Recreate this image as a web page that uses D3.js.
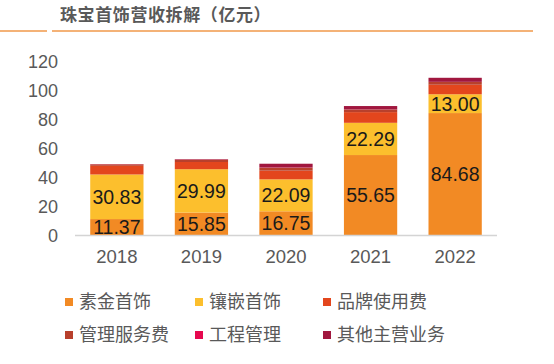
<!DOCTYPE html>
<html>
<head>
<meta charset="utf-8">
<script src="https://cdn.jsdelivr.net/npm/d3@7"></script>
<style>
  body { margin: 0; background: #fff; }
  svg { display: block; font-family: "Liberation Sans", Arial, "Noto Sans CJK SC", sans-serif; }
</style>
</head>
<body>
<svg id="chart" width="554" height="364"></svg>
<script>
const years = ['2018', '2019', '2020', '2021', '2022']
const series = ['素金首饰', '镶嵌首饰', '品牌使用费', '管理服务费', '工程管理', '其他主营业务']
const colors = ['#f28a24', '#fcbf2d', '#e3461d', '#b8402c', '#e6084f', '#a1173f']

// values per series, one per year (亿元)
const plainGold = [11.37, 15.85, 16.75, 55.65, 84.68]
const inlaid = [30.83, 29.99, 22.09, 22.29, 13.00]
const brandFee = [6.0, 5.0, 6.0, 7.4, 6.6]
const mgmtFee = [1.0, 1.6, 2.0, 1.8, 1.9]
const engineering = [0.1, 0.1, 0.2, 0.1, 0.1]
const otherBiz = [0.1, 0.3, 2.6, 2.3, 2.8]
const yTicks = [0, 20, 40, 60, 80, 100, 120]

const seriesValues = [plainGold, inlaid, brandFee, mgmtFee, engineering, otherBiz]
const rows = years.map((yr, i) => {
  const r = { year: yr }
  series.forEach((s, j) => { r[s] = seriesValues[j][i] })
  return r
})

const svg = d3.select('#chart')

// title + orange rule
svg.append('text')
  .attr('x', 60).attr('y', 21)
  .attr('font-size', 17).attr('font-weight', 'bold')
  .attr('letter-spacing', 0.6)
  .attr('fill', '#595959')
  .attr('font-family', '"Noto Sans CJK SC", sans-serif')
  .text('珠宝首饰营收拆解（亿元）')
svg.append('line').attr('x1', 0).attr('x2', 47).attr('y1', 31).attr('y2', 31)
  .attr('stroke', '#f0994a').attr('stroke-width', 1.5)
svg.append('line').attr('x1', 52).attr('x2', 533).attr('y1', 31).attr('y2', 31)
  .attr('stroke', '#f0994a').attr('stroke-width', 1.5)

const x = d3.scaleBand().domain(years).range([75, 497]).paddingInner(0.37).paddingOuter(0.18)
const y = d3.scaleLinear().domain([0, 120]).range([235.5, 62])

const stack = d3.stack().keys(series)(rows)

svg.append('g')
  .selectAll('g')
  .data(stack)
  .join('g')
  .attr('fill', (d, i) => colors[i])
  .selectAll('rect')
  .data(d => d)
  .join('rect')
  .attr('x', d => x(d.data.year))
  .attr('width', x.bandwidth())
  .attr('y', d => y(d[1]))
  .attr('height', d => y(d[0]) - y(d[1]))

// value labels for first two series
stack.slice(0, 2).forEach(layer => {
  svg.append('g')
    .selectAll('text')
    .data(layer)
    .join('text')
    .attr('x', d => x(d.data.year) + x.bandwidth() / 2)
    .attr('y', d => (y(d[0]) + y(d[1])) / 2)
    .attr('dy', '0.36em')
    .attr('text-anchor', 'middle')
    .attr('font-size', 19.5)
    .attr('fill', '#1a1a1a')
    .text(d => (d[1] - d[0]).toFixed(2))
})

// y axis
svg.append('g')
  .attr('transform', 'translate(58,0)')
  .call(d3.axisLeft(y).tickValues(yTicks).tickSize(0).tickPadding(0))
  .call(g => g.select('.domain').remove())
  .call(g => g.selectAll('text').attr('font-size', 18).attr('fill', '#595959')
    .attr('font-family', '"Liberation Sans", Arial, sans-serif'))

// x axis
svg.append('g')
  .attr('transform', `translate(0,${y(0)})`)
  .call(d3.axisBottom(x).tickSize(0).tickPadding(14))
  .call(g => g.select('.domain').attr('stroke', '#d4d4d4').attr('stroke-width', 1.5)
    .attr('d', 'M75,0H497'))
  .call(g => g.selectAll('text').attr('font-size', 18.5).attr('fill', '#595959')
    .attr('font-family', '"Liberation Sans", Arial, sans-serif'))

// legend
const legendX = [65, 195, 323]
const legendY = [302, 335]
const legend = svg.append('g')
  .selectAll('g')
  .data(series)
  .join('g')
  .attr('transform', (d, i) => `translate(${legendX[i % 3]},${legendY[Math.floor(i / 3)]})`)
legend.append('rect')
  .attr('x', 0).attr('y', -4).attr('width', 8).attr('height', 8)
  .attr('fill', (d, i) => colors[i])
legend.append('text')
  .attr('x', 14).attr('dy', '0.36em')
  .attr('font-size', 18).attr('fill', '#595959')
  .attr('font-family', '"Noto Sans CJK SC", sans-serif')
  .text(d => d)
</script>
</body>
</html>
